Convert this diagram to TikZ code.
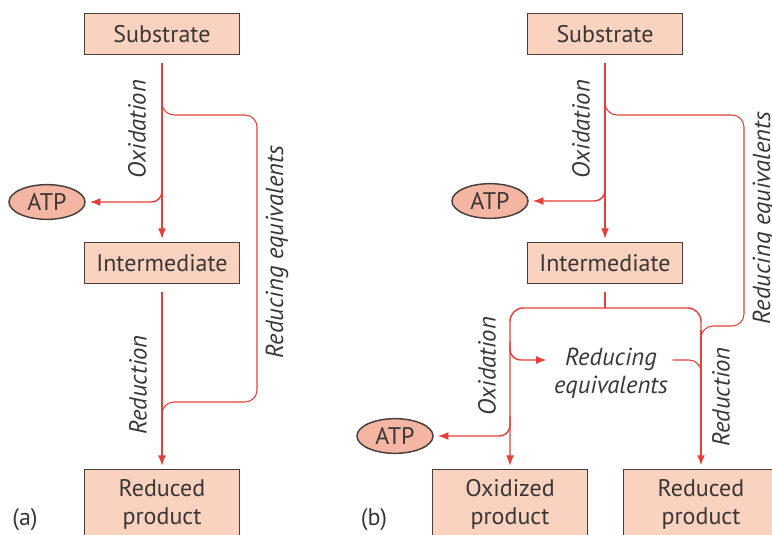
\documentclass[tikz,border=0pt]{standalone}
\usepackage{fontspec}
\setmainfont{PT Sans}
\usetikzlibrary{arrows.meta,shapes.geometric}

\definecolor{pesca}{RGB}{250,210,192}
\definecolor{pescascuro}{RGB}{244,182,162}
\definecolor{bordo}{RGB}{72,62,60}
\definecolor{rosso}{RGB}{226,64,56}
\definecolor{testo}{RGB}{58,54,54}

\begin{document}
\begin{tikzpicture}[x=0.75pt,y=-0.75pt,
  box/.style={draw=bordo, fill=pesca, line width=1.1pt, minimum width=116pt,
    minimum height=31pt, inner sep=0pt, align=center, text=testo,
    font=\fontsize{18}{21}\selectfont},
  atp/.style={ellipse, draw=bordo, fill=pescascuro, line width=1.1pt,
    minimum width=57pt, minimum height=26pt, inner sep=0pt, text=testo,
    font=\fontsize{18}{21}\selectfont},
  flow/.style={draw=rosso, line width=1.1pt, -{Latex[length=8pt,width=6pt]}},
  ramo/.style={draw=rosso, line width=0.8pt, rounded corners=9pt},
  lab/.style={rotate=90, text=testo, font=\fontsize{18.5}{21}\itshape}]

\clip (0,0) rectangle (772,535);

% pannello (a)
% Box
\node[box] (sub_a) at (162,34) {Substrate};
\node[box] (int_a) at (162,263) {Intermediate};
\node[box, minimum height=52pt] (red_a) at (162,504) {Reduced\\product};
\node[atp] (atp_a) at (47,202) {ATP};

% Punti di diramazione
\coordinate (a_atp) at (162,176);
\coordinate (a_re1) at (162,98);
\coordinate (a_re2) at (162,428);

% Frecce
\draw[flow, shorten <=6pt, shorten >=2pt] (sub_a) -- (int_a);
\draw[flow, shorten <=6pt, shorten >=2pt] (int_a) -- (red_a);
\draw[flow, rounded corners=8pt, shorten >=3pt] (a_atp) |- (atp_a);
\draw[ramo] (a_re1) |- (257,115) -- (257,402) -| (a_re2);

% Etichette
\node[lab] at (137,129) {Oxidation};
\node[lab] at (138,385) {Reduction};
\node[lab] at (277,252) {Reducing equivalents};
\node[text=testo, font=\fontsize{18}{21}\selectfont] (lab_a) at (25,520) {(a)};

% pannello (b)
% Box
\node[box] (sub_b) at (605,34) {Substrate};
\node[box] (int_b) at (605,263) {Intermediate};
\node[box, minimum height=52pt] (ox_b) at (510,504) {Oxidized\\product};
\node[box, minimum height=52pt] (red_b) at (701,504) {Reduced\\product};
\node[atp] (atp_b1) at (490,201) {ATP};
\node[atp] (atp_b2) at (395,436) {ATP};
\node[align=center, text=testo, font=\fontsize{18.5}{21}\itshape] (req_b) at (611,373) {Reducing\\equivalents};

% Punti di diramazione
\coordinate (b_atp) at (605,176);
\coordinate (b_re1) at (605,98);
\coordinate (b_re2) at (701,348);
\coordinate (b_split) at (605,308);
\coordinate (b_rv) at (701,330);
\coordinate (b_ox1) at (510,342);
\coordinate (b_ox2) at (510,416);
\coordinate (b_red1) at (701,386);

% Frecce
\draw[flow, shorten <=6pt, shorten >=2pt] (sub_b) -- (int_b);
\draw[flow, rounded corners=8pt, shorten >=3pt] (b_atp) |- (atp_b1);
\draw[ramo] (b_re1) |- (744,115) -- (744,326) -| (b_re2);
\draw[ramo, shorten <=6pt] (int_b) -- (b_split);
\draw[flow, rounded corners=10pt, shorten >=2pt] (b_split) -| (ox_b);
\draw[ramo, line width=1.1pt, rounded corners=10pt] (b_split) -| (b_rv);
\draw[flow, line width=2pt, shorten >=2pt] (b_rv) -- (red_b);
\draw[flow, rounded corners=8pt, shorten >=2pt] (b_ox1) |- ([yshift=9.75pt]req_b.west);
\draw[flow, rounded corners=8pt, shorten >=3pt] (b_ox2) |- (atp_b2);
\draw[ramo] ([yshift=9.75pt]req_b.east) -| (b_red1);

% Etichette
\node[lab] at (581,129) {Oxidation};
\node[lab] at (487,366) {Oxidation};
\node[lab] at (721,397) {Reduction};
\node[lab] at (764,218) {Reducing equivalents};
\node[text=testo, font=\fontsize{18}{21}\selectfont] (lab_b) at (374,520) {(b)};

\end{tikzpicture}
\end{document}
